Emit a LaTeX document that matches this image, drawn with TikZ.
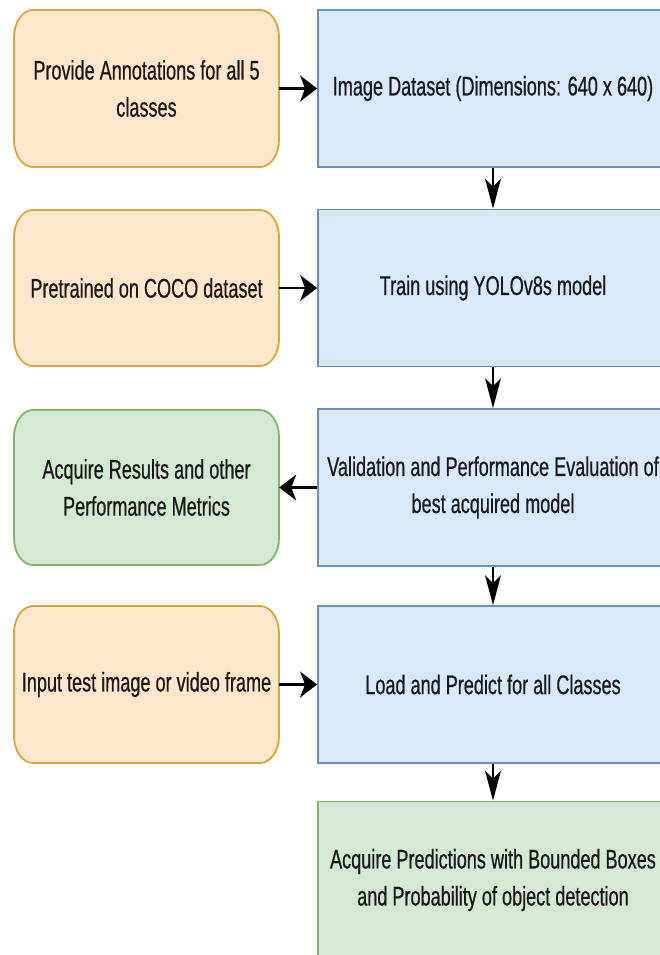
\documentclass[tikz,border=0pt]{standalone}
\usepackage{fontspec}
\setmainfont{Liberation Sans}[FakeStretch=0.67,FakeBold=0.6]
\usetikzlibrary{arrows.meta}
\definecolor{orfill}{HTML}{FFE6CC}
\definecolor{ordraw}{HTML}{D6A83A}
\definecolor{blfill}{HTML}{DAE8FC}
\definecolor{bldraw}{HTML}{6C8EBF}
\definecolor{grfill}{HTML}{D5E8D4}
\definecolor{grdraw}{HTML}{82B366}
\tikzset{
  boxtext/.style={align=center,inner sep=0pt,font=\fontsize{27}{37}\selectfont,text=black!90},
  leftbox/.style={boxtext,rectangle,minimum width=265pt,minimum height=157pt},
  rightbox/.style={boxtext,rectangle,line width=1.8pt,minimum width=350pt,minimum height=157pt},
  orshape/.style={fill=orfill,draw=ordraw,line width=1.8pt},
  grshape/.style={fill=grfill,draw=grdraw,line width=1.8pt},
  blbox/.style={rightbox,fill=blfill,draw=bldraw},
  grright/.style={rightbox,fill=grfill,draw=grdraw},
  harr/.style={draw=black,line width=2.6pt,-{Stealth[length=17pt,width=26pt,inset=5pt]}},
  varr/.style={draw=black,line width=1.6pt,-{Stealth[length=30pt,width=16pt,inset=8pt]}}
}
% rounded box with elliptical corners: x1 y1 x2 y2 style
\newcommand\myrrbox[5]{%
  \pgfmathsetmacro\rbxA{#1+19}\pgfmathsetmacro\rbxB{#3-19}%
  \pgfmathsetmacro\rbxC{#2+27}\pgfmathsetmacro\rbxD{#4-27}%
  \pgfmathsetmacro\rbxE{#1+19*0.448}\pgfmathsetmacro\rbxF{#3-19*0.448}%
  \pgfmathsetmacro\rbxG{#2+27*0.448}\pgfmathsetmacro\rbxH{#4-27*0.448}%
  \path[#5] (\rbxA,#2) -- (\rbxB,#2) .. controls (\rbxF,#2) and (#3,\rbxG) .. (#3,\rbxC)
    -- (#3,\rbxD) .. controls (#3,\rbxH) and (\rbxF,#4) .. (\rbxB,#4)
    -- (\rbxA,#4) .. controls (\rbxE,#4) and (#1,\rbxH) .. (#1,\rbxD)
    -- (#1,\rbxC) .. controls (#1,\rbxG) and (\rbxE,#2) .. (\rbxA,#2) -- cycle;}
\begin{document}
\begin{tikzpicture}[x=1pt,y=-1pt]
\useasboundingbox[fill=white] (0,0) rectangle (660,955);
% left rounded shapes
\myrrbox{14}{10}{279}{167}{orshape}
\myrrbox{14}{210}{279}{366}{orshape}
\myrrbox{14}{410}{279}{565}{grshape}
\myrrbox{14}{606}{279}{763}{orshape}
% nodes
\node[leftbox] (o1) at (146.5,88.5) {Provide Annotations for all 5\\classes};
\node[blbox] (b1) at (493,88.5) {Image Dataset (Dimensions: 640 x 640)};
\node[leftbox] (o2) at (146.5,288) {Pretrained on COCO dataset};
\node[blbox] (b2) at (493,288) {Train using YOLOv8s model};
\node[leftbox] (g1) at (146.5,487.5) {Acquire Results and other\\Performance Metrics};
\node[blbox] (b3) at (493,487.5) {Validation and Performance Evaluation of\\best acquired model};
\node[leftbox] (o3) at (146.5,684.5) {Input test image or video frame};
\node[blbox] (b4) at (493,684.5) {Load and Predict for all Classes};
\node[grright] (g2) at (493,880) {Acquire Predictions with Bounded Boxes\\and Probability of object detection};
% connectors
\draw[harr] (o1) -- (b1);
\draw[harr] (o2) -- (b2);
\draw[harr] (b3) -- (g1);
\draw[harr] (o3) -- (b4);
\draw[varr] (b1) -- (b2);
\draw[varr] (b2) -- (b3);
\draw[varr] (b3) -- (b4);
\draw[varr] (b4) -- (g2);
\end{tikzpicture}
\end{document}
